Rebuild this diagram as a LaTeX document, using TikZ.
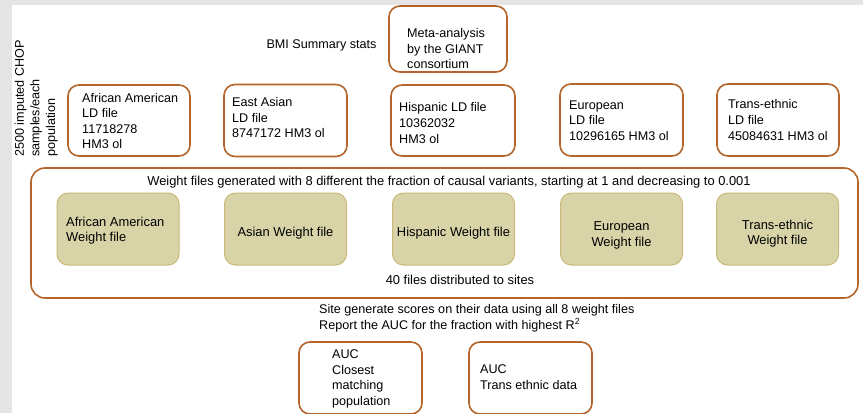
\documentclass[tikz,border=0pt]{standalone}
\usepackage{fontspec}
\setmainfont{Liberation Sans}
\definecolor{frameor}{HTML}{B5652B}
\definecolor{khaki}{HTML}{D8D4A8}
\definecolor{khakiline}{HTML}{C9B978}
\definecolor{bggray}{HTML}{E5E5E5}
\tikzset{
  obox/.style={draw=frameor, line width=1.6pt, rounded corners=11pt, fill=white, inner sep=0pt},
  wbox/.style={draw=khakiline, line width=1pt, rounded corners=11pt, fill=khaki, inner sep=0pt,
               minimum width=122pt, minimum height=72pt},
  txt/.style={inner sep=0pt, align=left, font=\fontsize{12.6}{15.6}\selectfont},
  wtxt/.style={inner sep=0pt, align=center, font=\fontsize{12.9}{15.5}\selectfont},
}
\begin{document}
\begin{tikzpicture}[x=1pt,y=-1pt]
\fill[bggray] (0,0) rectangle (863,413);
\fill[white] (12,5) rectangle (863,413);
\useasboundingbox (0,0) rectangle (863,413);

% side label
\node[txt, rotate=90, anchor=north west] (side) at (14.5,157) {2500 imputed CHOP\\samples/each\\population};

% top
\node[txt, anchor=center] (bmi) at (321.5,45) {BMI Summary stats};
\node[obox, minimum width=118pt, minimum height=66pt] (meta) at (448,39) {};
\node[txt, anchor=west] (metat) at (407,48.5) {Meta-analysis\\by the GIANT\\consortium};

% LD files row
\node[obox, minimum width=122pt, minimum height=71pt] (aa) at (129,120.5) {};
\node[txt, anchor=west] (aat) at (82,121) {African American\\LD file\\11718278\\HM3 ol};
\node[obox, minimum width=123pt, minimum height=72pt] (ea) at (285.5,120.5) {};
\node[txt, anchor=west] (eat) at (232,117.5) {East Asian\\LD file\\8747172 HM3 ol};
\node[obox, minimum width=124pt, minimum height=71pt] (hi) at (453,120.5) {};
\node[txt, anchor=west] (hit) at (399,123) {Hispanic LD file\\10362032\\HM3 ol};
\node[obox, minimum width=123pt, minimum height=72pt] (eu) at (621.5,120) {};
\node[txt, anchor=west] (eut) at (569,120.5) {European\\LD file\\10296165 HM3 ol};
\node[obox, minimum width=122pt, minimum height=72pt] (te) at (778,120) {};
\node[txt, anchor=west] (tet) at (728,120) {Trans-ethnic\\LD file\\45084631 HM3 ol};

% big box
\node[obox, rounded corners=14pt, minimum width=827pt, minimum height=130pt] (big) at (444.5,233) {};
\node[wtxt, anchor=center] (head) at (449,182) {Weight files generated with 8 different the fraction of causal variants, starting at 1 and decreasing to 0.001};
\node[wbox] (w1) at (118,229) {};
\node[wtxt, align=left, anchor=west] (w1t) at (66,230.5) {African American\\Weight file};
\node[wbox] (w2) at (285.5,229) {};
\node[wtxt] (w2t) at (285.5,233) {Asian Weight file};
\node[wbox] (w3) at (453.5,229) {};
\node[wtxt] (w3t) at (453.5,233) {Hispanic Weight file};
\node[wbox] (w4) at (621.5,229) {};
\node[wtxt] (w4t) at (621.5,235.5) {European\\Weight file};
\node[wbox] (w5) at (777.5,229) {};
\node[wtxt] (w5t) at (777.5,233.5) {Trans-ethnic\\Weight file};
\node[wtxt] (dist) at (460,280) {40 files distributed to sites};

% bottom
\node[txt, anchor=west] (site) at (319,318) {Site generate scores on their data using all 8 weight files\\Report the AUC for the fraction with highest R\textsuperscript{2}};
\node[obox, minimum width=123pt, minimum height=72pt] (auc1) at (360.5,378) {};
\node[txt, anchor=west] (auc1t) at (332,379) {AUC\\Closest\\matching\\population};
\node[obox, minimum width=123pt, minimum height=72pt] (auc2) at (530.5,378) {};
\node[txt, anchor=west] (auc2t) at (480,377) {AUC\\Trans ethnic data};
\end{tikzpicture}
\end{document}
